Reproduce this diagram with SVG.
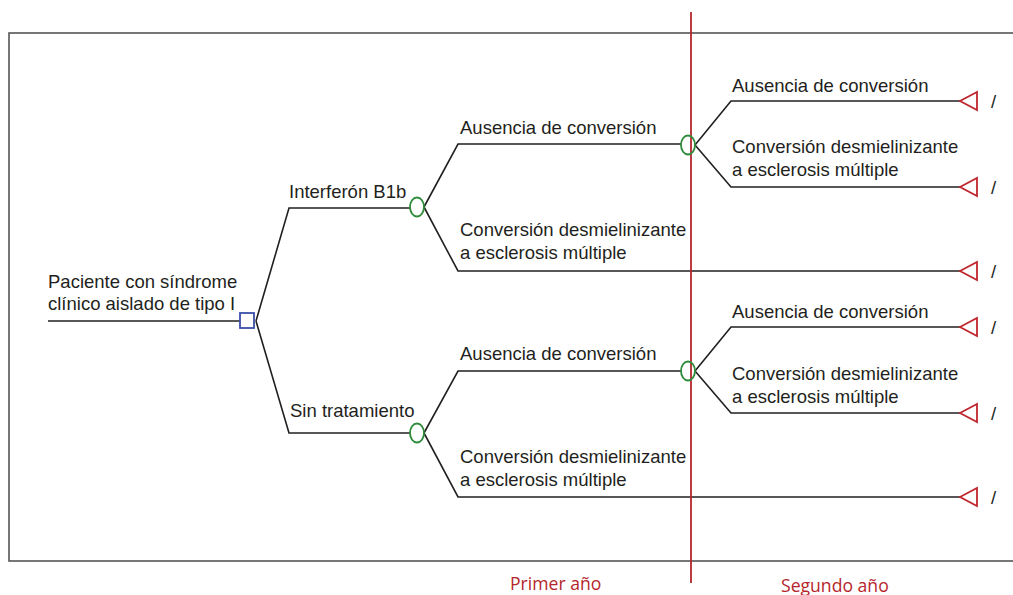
<svg xmlns="http://www.w3.org/2000/svg" width="1013" height="595" viewBox="0 0 1013 595">
<style>
.t{font-family:"Liberation Sans",Arial,sans-serif;font-size:18.5px;fill:#231f20}
.r{font-family:"Open Sans","Liberation Sans",sans-serif;font-size:17.6px;fill:#b5262c}
.l{fill:none;stroke:#231f20;stroke-width:1.6}
.c{fill:none;stroke:#2e8b3a;stroke-width:1.8}
.tri{fill:#fff;stroke:#c0262d;stroke-width:1.8}
</style>
<rect x="9" y="33" width="1020" height="528" fill="none" stroke="#555" stroke-width="1.6"/>
<g id="connectors">
<path class="l" d="M48 321H240"/>
<path class="l" d="M256 321L289 208H410M256 321L289 433H410"/>
<path class="l" d="M424 207L458 144H681M424 207L458 271H960"/>
<path class="l" d="M424 433L458 371H681M424 433L458 497H960"/>
<path class="l" d="M695 145L731 101H960M695 145L731 187H960"/>
<path class="l" d="M695 371L731 327H960M695 371L731 413H960"/>
</g>
<line x1="691" y1="12" x2="691" y2="583" stroke="#b5262c" stroke-width="1.8"/>
<g id="root"><rect x="240" y="313" width="14" height="15" fill="none" stroke="#3a4fa8" stroke-width="1.8"/>
<text class="t" x="48" y="288">Paciente con síndrome</text><text class="t" x="48" y="310">clínico aislado de tipo I</text></g>
<g id="interferon"><ellipse class="c" cx="417" cy="207" rx="7" ry="9.5"/><text class="t" x="289" y="198">Interferón B1b</text></g>
<g id="sin"><ellipse class="c" cx="417" cy="433" rx="7" ry="9.5"/><text class="t" x="290" y="417">Sin tratamiento</text></g>
<g id="i-aus"><ellipse class="c" cx="688" cy="145" rx="7" ry="9.5"/><text class="t" x="460" y="134">Ausencia de conversión</text></g>
<g id="i-conv"><text class="t" x="460" y="236">Conversión desmielinizante</text><text class="t" x="460" y="259">a esclerosis múltiple</text></g>
<g id="s-aus"><ellipse class="c" cx="688" cy="371" rx="7" ry="9.5"/><text class="t" x="460" y="360">Ausencia de conversión</text></g>
<g id="s-conv"><text class="t" x="460" y="463">Conversión desmielinizante</text><text class="t" x="460" y="486">a esclerosis múltiple</text></g>
<g id="ia-aus"><text class="t" x="732" y="92">Ausencia de conversión</text></g>
<g id="ia-conv"><text class="t" x="732" y="153">Conversión desmielinizante</text><text class="t" x="732" y="176">a esclerosis múltiple</text></g>
<g id="sa-aus"><text class="t" x="732" y="318">Ausencia de conversión</text></g>
<g id="sa-conv"><text class="t" x="732" y="380">Conversión desmielinizante</text><text class="t" x="732" y="403">a esclerosis múltiple</text></g>
<g id="terminals">
<path class="tri" d="M960 101L977 92V110Z"/><text class="t" x="991" y="108">/</text>
<path class="tri" d="M960 187L977 178V196Z"/><text class="t" x="991" y="194">/</text>
<path class="tri" d="M960 271L977 262V280Z"/><text class="t" x="991" y="278">/</text>
<path class="tri" d="M960 327L977 318V336Z"/><text class="t" x="991" y="334">/</text>
<path class="tri" d="M960 413L977 404V422Z"/><text class="t" x="991" y="420">/</text>
<path class="tri" d="M960 497L977 488V506Z"/><text class="t" x="991" y="504">/</text>
</g>
<text class="r" x="510" y="590">Primer año</text>
<text class="r" x="781" y="592">Segundo año</text>
</svg>
